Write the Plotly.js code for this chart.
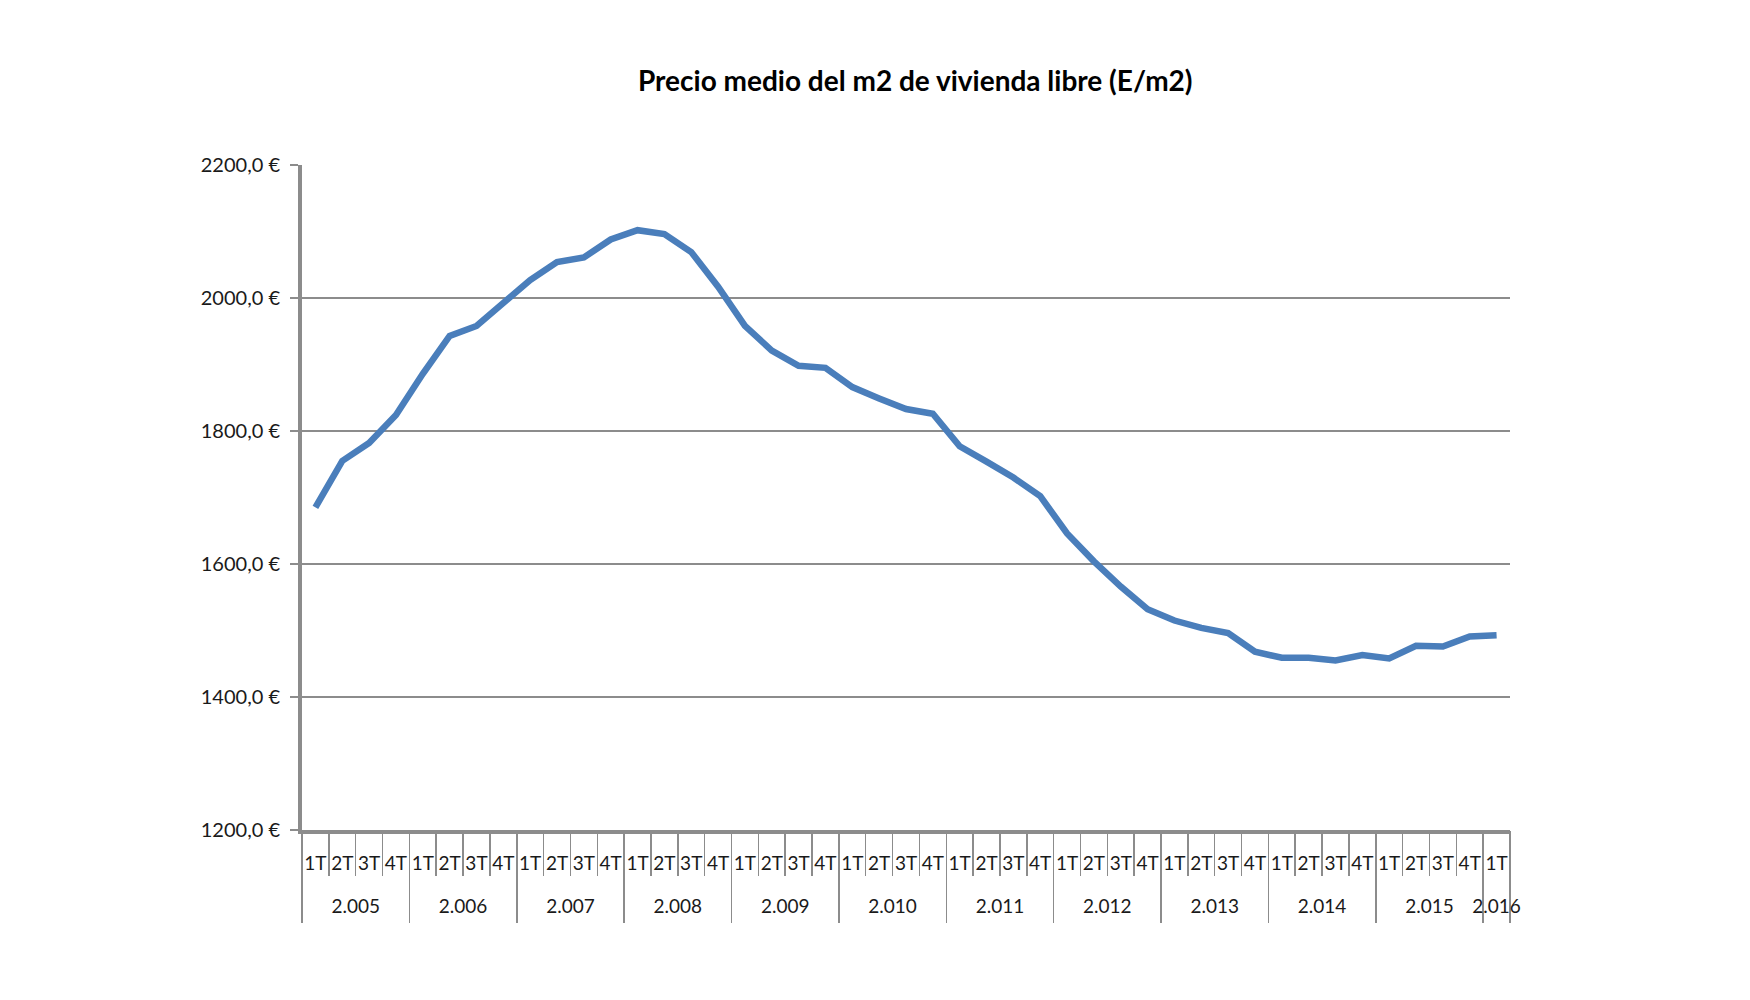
<!DOCTYPE html>
<html>
<head>
<meta charset="utf-8">
<script src="https://cdn.plot.ly/plotly-3.0.1.min.js"></script>
<style>html,body{margin:0;padding:0;background:#fff;}#chart{width:1750px;height:1000px;}</style>
</head>
<body>
<div id="chart"></div>
<script>
// Year group label for each point
const yearOfPoint = [
  '2.005','2.005','2.005','2.005',
  '2.006','2.006','2.006','2.006',
  '2.007','2.007','2.007','2.007',
  '2.008','2.008','2.008','2.008',
  '2.009','2.009','2.009','2.009',
  '2.010','2.010','2.010','2.010',
  '2.011','2.011','2.011','2.011',
  '2.012','2.012','2.012','2.012',
  '2.013','2.013','2.013','2.013',
  '2.014','2.014','2.014','2.014',
  '2.015','2.015','2.015','2.015',
  '2.016'
];
// Quarter label for each point
const quarterOfPoint = [
  '1T','2T','3T','4T','1T','2T','3T','4T','1T','2T','3T','4T',
  '1T','2T','3T','4T','1T','2T','3T','4T','1T','2T','3T','4T',
  '1T','2T','3T','4T','1T','2T','3T','4T','1T','2T','3T','4T',
  '1T','2T','3T','4T','1T','2T','3T','4T','1T'
];
// Average price per m2 (EUR)
const price = [
  1685, 1755, 1782, 1824,
  1886, 1943, 1958, 1994,
  2027, 2054, 2061, 2088,
  2102, 2096, 2069, 2017,
  1958, 1921, 1898, 1895,
  1866, 1849, 1833, 1826,
  1777, 1754, 1730, 1702,
  1646, 1604, 1566, 1532,
  1515, 1504, 1496, 1468,
  1459, 1459, 1455, 1463,
  1458, 1477, 1476, 1491,
  1493
];
const yTicks = [1200, 1400, 1600, 1800, 2000, 2200];
const yTickText = ['1200,0 €', '1400,0 €', '1600,0 €', '1800,0 €', '2000,0 €', '2200,0 €'];

// Category positions (one slot per quarter) derived from the label arrays
const idx = quarterOfPoint.map((_, i) => i);
const quarterBounds = idx.map(i => i - 0.5).concat([idx.length - 0.5]);
const yearNames = [];
const yearCenters = [];
const yearBounds = [];
yearOfPoint.forEach((yName, i) => {
  if (i === 0 || yearOfPoint[i - 1] !== yName) {
    yearNames.push(yName);
    yearBounds.push(i - 0.5);
    const last = yearOfPoint.lastIndexOf(yName);
    yearCenters.push((i + last) / 2);
  }
});
yearBounds.push(idx.length - 0.5);
const xRange = [-0.5, idx.length - 0.5];

const gray = '#8c8c8c';
const fontFam = 'Lato, "Open Sans", sans-serif';
const tickFont = {family: fontFam, size: 19, color: '#1a1a1a'};

const trace = {
  type: 'scatter',
  mode: 'lines',
  x: idx,
  y: price,
  line: {color: '#4a7ebb', width: 6.5},
  hoverinfo: 'skip'
};
// invisible carriers so the overlay axes (separators, dividers, year labels) are drawn
const carriers = ['x2', 'x3', 'x4'].map(ax => ({
  type: 'scatter', mode: 'none', x: idx, y: price,
  xaxis: ax, yaxis: 'y', hoverinfo: 'skip', showlegend: false
}));

const overlayBase = {
  overlaying: 'x', anchor: 'y', side: 'bottom',
  range: xRange, fixedrange: true,
  showgrid: false, zeroline: false, showline: false,
  tickmode: 'array'
};

const layout = {
  width: 1750,
  height: 1000,
  paper_bgcolor: '#ffffff',
  plot_bgcolor: '#ffffff',
  showlegend: false,
  margin: {l: 302, r: 240, t: 165, b: 170, pad: 0},
  title: {
    text: '<b>Precio medio del m2 de vivienda libre (E/m2)</b>',
    font: {family: fontFam, size: 28, color: '#000000'},
    xref: 'container', x: 0.523, xanchor: 'center',
    yref: 'container', y: 0.919, yanchor: 'middle'
  },
  // quarter labels + axis line
  xaxis: {
    range: xRange,
    fixedrange: true,
    tickmode: 'array',
    tickvals: idx,
    ticktext: quarterOfPoint,
    ticks: '',
    tickangle: 0,
    ticklabelstandoff: 13,
    showgrid: false,
    zeroline: false,
    showline: true,
    linecolor: gray,
    linewidth: 4,
    tickfont: tickFont
  },
  // quarter separators
  xaxis2: Object.assign({}, overlayBase, {
    tickvals: quarterBounds,
    ticks: 'outside', ticklen: 45, tickwidth: 1.5, tickcolor: gray,
    showticklabels: false
  }),
  // year dividers
  xaxis3: Object.assign({}, overlayBase, {
    tickvals: yearBounds,
    ticks: 'outside', ticklen: 92, tickwidth: 1.5, tickcolor: gray,
    showticklabels: false
  }),
  // year labels
  xaxis4: Object.assign({}, overlayBase, {
    tickvals: yearCenters,
    ticktext: yearNames,
    ticks: '',
    tickangle: 0,
    ticklabelstandoff: 63,
    tickfont: tickFont
  }),
  yaxis: {
    range: [1200, 2200],
    tickvals: yTicks,
    ticktext: yTickText,
    showgrid: true,
    gridcolor: gray,
    gridwidth: 2,
    zeroline: false,
    showline: true,
    linecolor: gray,
    linewidth: 4,
    ticks: 'outside',
    ticklen: 8,
    tickwidth: 2,
    tickcolor: gray,
    ticklabelstandoff: 6,
    tickfont: {family: fontFam, size: 20, color: '#1a1a1a'},
    fixedrange: true
  }
};

Plotly.newPlot('chart', carriers.concat([trace]), layout, {displayModeBar: false, staticPlot: true});
</script>
</body>
</html>
